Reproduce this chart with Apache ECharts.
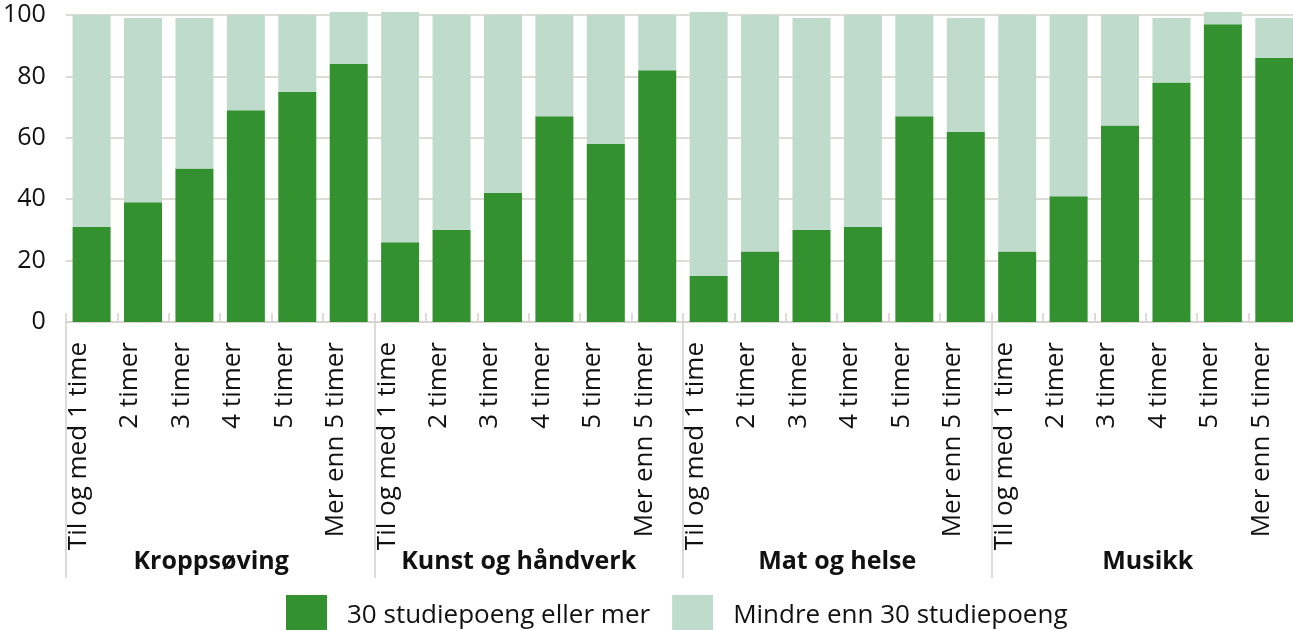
<!DOCTYPE html>
<html>
<head>
<meta charset="utf-8">
<script src="https://cdn.jsdelivr.net/npm/echarts@6/dist/echarts.min.js"></script>
<style>
  html, body { margin: 0; padding: 0; background: #fff; overflow: hidden; }
  #main { width: 1310px; height: 630px; }
</style>
</head>
<body>
<div id="main"></div>
<script>
// kategorier (timer per uke) og fag
var timer = ['Til og med 1 time', '2 timer', '3 timer', '4 timer', '5 timer', 'Mer enn 5 timer']
var fag = ['Kroppsøving', 'Kunst og håndverk', 'Mat og helse', 'Musikk']

// andel lærere, prosent
var over30 = [31, 39, 50, 69, 75, 84, 26, 30, 42, 67, 58, 82, 15, 23, 30, 31, 67, 62, 23, 41, 64, 78, 97, 86]
var under30 = [69, 60, 49, 31, 25, 17, 75, 70, 58, 33, 42, 18, 86, 77, 69, 69, 33, 37, 77, 59, 36, 21, 4, 13]

var yTicks = { min: 0, max: 100, interval: 20 }

var categories = []
fag.forEach(function () {
  timer.forEach(function (t) {
    categories.push(t)
  })
})

var grey = '#d5d0cb'
var font = 'Open Sans'

// fagnavnene står ikke helt midt i gruppen i originalen
var groupStyle = { fontSize: 25, fontWeight: 'bold', color: '#111', fontFamily: font }
var rich = {
  g0: Object.assign({ padding: [0, 18, 0, 0] }, groupStyle),
  g1: Object.assign({ padding: [0, 20, 0, 0] }, groupStyle),
  g2: Object.assign({}, groupStyle),
  g3: Object.assign({ padding: [0, 0, 0, 4] }, groupStyle)
}

var chart = echarts.init(document.getElementById('main'))

var option = {
  animation: false,
  textStyle: { fontFamily: font },
  grid: {
    left: 61,
    right: 10,
    top: 15,
    bottom: 308
  },
  legend: {
    left: 286,
    top: 595,
    padding: 0,
    itemWidth: 41,
    itemHeight: 41,
    itemGap: 22,
    icon: 'rect',
    textStyle: {
      fontFamily: font,
      fontSize: 26,
      color: '#111',
      padding: [0, 0, 0, 15]
    },
    data: ['30 studiepoeng eller mer', 'Mindre enn 30 studiepoeng']
  },
  xAxis: [
    {
      type: 'category',
      data: categories,
      position: 'bottom',
      axisLine: { show: true, lineStyle: { color: grey, width: 1.5 } },
      axisTick: { show: true, interval: 0, inside: true, length: 9, lineStyle: { color: grey, width: 1.5 } },
      axisLabel: {
        interval: 0,
        rotate: 90,
        margin: 20,
        fontSize: 26,
        color: '#111',
        fontFamily: font,
        verticalAlign: 'bottom'
      }
    },
    {
      type: 'category',
      data: fag,
      position: 'bottom',
      offset: -9,
      axisLine: { show: false, onZero: false },
      axisTick: { show: true, interval: 0, length: 265, lineStyle: { color: grey, width: 1.5 } },
      axisLabel: {
        interval: 0,
        margin: 236,
        fontSize: 25,
        fontWeight: 'bold',
        color: '#111',
        fontFamily: font,
        formatter: function (value, index) {
          return '{g' + index + '|' + value + '}'
        },
        rich: rich
      }
    }
  ],
  yAxis: {
    type: 'value',
    min: yTicks.min,
    max: yTicks.max,
    interval: yTicks.interval,
    axisLine: { show: false },
    axisTick: { show: false },
    axisLabel: { fontSize: 25, margin: 20, color: '#111', fontFamily: font },
    splitLine: { lineStyle: { color: grey, width: 1.5 } }
  },
  series: [
    {
      name: '30 studiepoeng eller mer',
      type: 'bar',
      stack: 'total',
      barWidth: 38,
      clip: false,
      itemStyle: { color: '#339130' },
      data: over30
    },
    {
      name: 'Mindre enn 30 studiepoeng',
      type: 'bar',
      stack: 'total',
      barWidth: 38,
      clip: false,
      itemStyle: { color: '#bfdbcc' },
      data: under30
    }
  ]
}

chart.setOption(option)
</script>
</body>
</html>
